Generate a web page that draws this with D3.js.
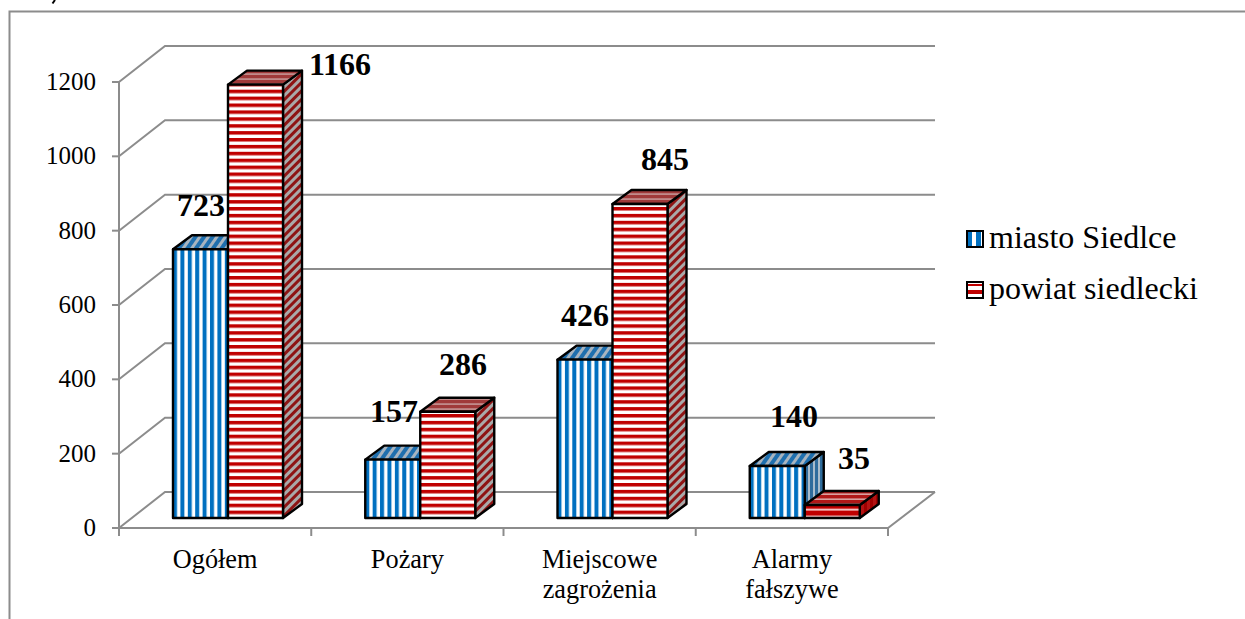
<!DOCTYPE html>
<html><head><meta charset="utf-8">
<script src="https://cdn.jsdelivr.net/npm/d3@7/dist/d3.min.js"></script>
<style>html,body{margin:0;padding:0;background:#fff;overflow:hidden}svg{display:block}text{font-family:"Liberation Serif",serif;fill:#000}</style>
</head><body><svg id="c" width="1245" height="619"></svg>
<script>
const categories=[["Ogółem"],["Pożary"],["Miejscowe","zagrożenia"],["Alarmy","fałszywe"]];
const seriesNames=["miasto Siedlce","powiat siedlecki"];
const miasto=[723,157,426,140];
const powiat=[1166,286,845,35];
const yTicks=[0,200,400,600,800,1000,1200];
const baseColors=["#0070c0","#c00000"];

const svg=d3.select("#c");
const W=1245;
const y=d3.scaleLinear().domain([0,1200]).range([528,82]);
const x=d3.scaleBand().domain(d3.range(categories.length)).range([119,888]);
const dxWall=46,dyWall=-36;
const dxBar=19,dyBar=-14;
const barInset=54,barW=55,barLift=10;
const gray="#8c8c8c";
const defs=svg.append("defs");
function pat(id,w,rot,bg,fg,fw,tx){
  const p=defs.append("pattern").attr("id",id).attr("patternUnits","userSpaceOnUse").attr("width",w).attr("height",10);
  const tr=(tx!=null?`translate(${tx},0) `:"")+(rot?`rotate(${rot})`:"");
  if(tr)p.attr("patternTransform",tr);
  p.append("rect").attr("width",w).attr("height",10).attr("fill",bg);
  p.append("rect").attr("width",fw).attr("height",10).attr("fill",fg);
}
function patH(id,h,bg,fg,fw){
  const p=defs.append("pattern").attr("id",id).attr("patternUnits","userSpaceOnUse").attr("width",10).attr("height",h);
  p.append("rect").attr("width",10).attr("height",h).attr("fill",bg);
  p.append("rect").attr("width",10).attr("height",fw).attr("fill",fg);
}
pat("b-top",7,35,"#a8b4bf","#1f6fae",4);
pat("b-side",5,0,"#a9bccb","#2f6c9c",3);
patH("r-front",6.9,"#fff","#c00000",3.5);
patH("r-top",5,"#c08a8a","#a03a3a",3.2);
pat("r-side",6,45,"#a9a9a9","#8e1414",3);
patH("r-front2",6.9,"#f4c8c8","#c00000",5);
patH("r-top2",5,"#d8a0a0","#b01818",3.4);
pat("r-side2",6,0,"#b31313","#a00000",3);

svg.append("path").attr("d",`M9.5,619V11.5H${W}`).attr("fill","none").attr("stroke",gray).attr("stroke-width",2);
svg.append("path").attr("d","M55,0L52.5,3.5").attr("fill","none").attr("stroke","#000").attr("stroke-width",2);

const walls=svg.append("g").attr("fill","none").attr("stroke",gray).attr("stroke-width",2);
yTicks.forEach(t=>{
  const y0=y(t);
  walls.append("path").attr("d",`M119,${y0}L${119+dxWall},${y0+dyWall}H935`);
  walls.append("path").attr("d",`M112,${y0}H119`);
});
walls.append("path").attr("d",`M119,${y(1200)}V${y(0)}`);
walls.append("path").attr("d",`M112,${y(0)}H888L935,${y(0)+dyWall}`);
x.domain().forEach(i=>walls.append("path").attr("d",`M${x(i)},${y(0)}v8`));
walls.append("path").attr("d",`M888,${y(0)}v8`);

svg.append("g").selectAll("text").data(yTicks).join("text")
  .attr("x",96).attr("y",d=>y(d)+8).attr("text-anchor","end").attr("font-size",25).text(d=>d);
const cat=svg.append("g").selectAll("text").data(categories).join("text")
  .attr("text-anchor","middle").attr("font-size",26.3);
cat.each(function(d,i){
  d3.select(this).selectAll("tspan").data(d).join("tspan")
    .attr("x",x(i)+x.bandwidth()/2).attr("y",(t,j)=>568+j*30).text(t=>t);
});

const yBar=v=>y(v)-barLift;
function bar(g,i,v,s){
  const x0=x(i)+barInset+s*barW,x1=x0+barW,y0=y(0)-barLift,yt=yBar(v);
  const low=v<60;
  const key=s?"r":"b";
  let f=low?key+"-front2":key+"-front";
  const t=low?key+"-top2":key+"-top",sd=low?key+"-side2":key+"-side";
  if(!s){f="b-front-"+i;pat(f,7.4,0,"#fff",baseColors[0],4,x0);}
  const add=(d,fill)=>g.append("path").attr("d",d).attr("fill",`url(#${fill})`).attr("stroke","#000").attr("stroke-width",2.4).attr("stroke-linejoin","round");
  add(`M${x1},${y0}L${x1+dxBar},${y0+dyBar}V${yt+dyBar}L${x1},${yt}Z`,sd);
  add(`M${x0},${yt}L${x0+dxBar},${yt+dyBar}H${x1+dxBar}L${x1},${yt}Z`,t);
  add(`M${x0},${y0}H${x1}V${yt}H${x0}Z`,f);
}
const bars=svg.append("g");
categories.forEach((c,i)=>{bar(bars,i,miasto[i],0);bar(bars,i,powiat[i],1);});

const labelPos=[[[201,216],[340,75]],[[394,422],[463,375]],[[585,326],[665,170]],[[794,427],[854,469]]];
const lab=svg.append("g").attr("font-size",32).attr("font-weight","bold").attr("text-anchor","middle");
categories.forEach((c,i)=>{
  lab.append("text").attr("x",labelPos[i][0][0]).attr("y",labelPos[i][0][1]).attr("font-weight","bold").text(miasto[i]);
  lab.append("text").attr("x",labelPos[i][1][0]).attr("y",labelPos[i][1][1]).attr("font-weight","bold").text(powiat[i]);
});

const lg=svg.append("g");
const legendY=[231,282];
const legendBands=[[[968,3,4,14],[976,3,5,14]],[[968,2,14,2],[968,8,14,4]]];
seriesNames.forEach((n,i)=>{
  const top=legendY[i];
  lg.append("rect").attr("x",967).attr("y",top).attr("width",16).attr("height",16).attr("fill","#fff").attr("stroke","#000").attr("stroke-width",2);
  legendBands[i].forEach(b=>lg.append("rect").attr("x",b[0]).attr("y",top+(i?b[1]:1)).attr("width",b[2]).attr("height",b[3]).attr("fill",baseColors[i]));
  lg.append("text").attr("x",989).attr("y",top+17).attr("font-size",32).text(n);
});
</script></body></html>
